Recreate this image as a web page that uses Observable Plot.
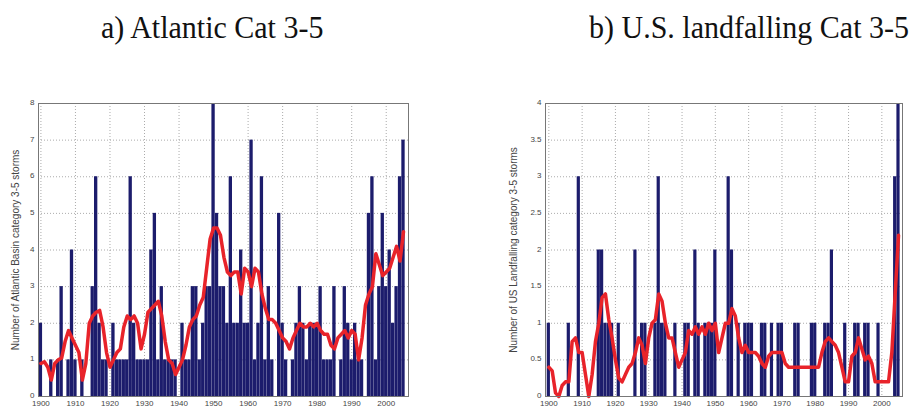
<!DOCTYPE html>
<html><head><meta charset="utf-8">
<script src="https://cdn.jsdelivr.net/npm/d3@7"></script>
<script src="https://cdn.jsdelivr.net/npm/@observablehq/plot@0.6"></script>
<style>
html,body{margin:0;padding:0;background:#fff;}
#root{position:relative;width:909px;height:413px;overflow:hidden;background:#fff;}
.title{position:absolute;top:10px;font-family:"Liberation Serif","Times New Roman",serif;font-size:30px;line-height:32px;color:#111;white-space:nowrap;transform:scaleY(1.07);transform-origin:left top;}
.panel{position:absolute;top:90px;}
</style></head><body>
<div id="root">
  <div class="title" style="left:101px">a) Atlantic Cat 3-5</div>
  <div class="title" style="left:589px">b) U.S. landfalling Cat 3-5</div>
  <div class="panel" id="pa" style="left:0px"></div>
  <div class="panel" id="pb" style="left:500px"></div>
</div>
<script>
// Years 1900-2005
const years = d3.range(1900, 2006);

// a) Atlantic basin category 3-5 storms per year
const atlanticCounts = [
  2,0,0,1,0,1,3,0,1,4,
  1,0,1,0,0,3,6,2,1,1,
  0,2,1,1,1,1,6,2,1,1,
  1,1,4,5,1,3,1,1,1,1,
  0,2,1,1,3,3,1,2,3,3,
  8,5,3,3,2,6,2,2,4,2,
  2,7,1,2,6,1,3,1,0,5,
  2,1,0,1,2,3,2,1,2,2,
  2,3,1,1,1,3,0,1,3,2,
  1,2,1,1,0,5,6,1,3,5,
  3,4,2,3,6,7
];
// a) smoothed curve (red)
const atlanticSmooth = [
  0.9,0.95,0.8,0.45,0.9,1.0,1.05,1.5,1.8,1.6,
  1.4,1.2,0.45,0.9,2.0,2.2,2.3,2.35,1.9,1.2,
  0.8,1.0,1.2,1.3,1.9,2.2,2.1,2.2,2.0,1.3,
  1.7,2.3,2.4,2.5,2.6,2.2,1.5,1.0,0.9,0.6,
  0.8,1.0,1.4,1.9,2.1,2.2,2.5,2.7,3.5,4.3,
  4.6,4.6,4.4,3.8,3.4,3.3,3.4,3.4,2.8,3.5,
  3.4,3.0,3.5,3.4,2.8,2.4,2.1,2.1,2.0,1.8,
  1.6,1.5,1.3,1.6,1.8,2.0,1.9,1.9,2.0,1.9,
  2.0,1.8,1.7,1.7,1.4,1.3,1.6,1.7,1.8,1.6,
  1.8,1.7,1.0,1.6,2.5,2.8,3.0,3.9,3.6,3.3,
  3.4,3.5,3.8,4.1,3.7,4.5
];

// b) U.S. landfalling category 3-5 storms per year
const usCounts = [
  1,0,0,0,0,0,1,0,0,3,
  0,0,0,0,0,2,2,1,1,1,
  0,1,0,0,0,0,2,0,1,1,
  0,0,1,3,1,1,0,0,1,0,
  0,1,1,0,2,1,0,1,1,1,
  2,0,0,0,3,2,0,1,0,1,
  1,1,0,0,1,1,0,1,0,1,
  1,0,0,0,1,1,0,0,0,1,
  1,0,0,1,1,2,0,0,0,1,
  0,0,1,1,0,1,1,0,0,1,
  0,0,0,0,3,4
];
// b) smoothed curve (red)
const usSmooth = [
  0.4,0.35,0.05,0.0,0.15,0.2,0.2,0.75,0.8,0.6,
  0.6,0.3,0.0,0.3,0.75,1.0,1.35,1.4,1.05,0.8,
  0.5,0.25,0.2,0.3,0.4,0.45,0.6,0.8,0.7,0.45,
  0.8,1.0,1.05,1.4,1.3,1.0,0.8,0.8,0.6,0.4,
  0.5,0.6,0.9,0.85,0.95,0.85,0.95,0.85,1.0,0.9,
  1.0,0.6,0.8,1.0,1.0,1.2,1.1,0.8,0.6,0.7,
  0.6,0.6,0.6,0.55,0.45,0.4,0.55,0.6,0.6,0.6,
  0.6,0.45,0.4,0.4,0.4,0.4,0.4,0.4,0.4,0.4,
  0.4,0.4,0.6,0.75,0.8,0.75,0.7,0.6,0.4,0.2,
  0.2,0.55,0.6,0.8,0.65,0.5,0.55,0.45,0.2,0.2,
  0.2,0.2,0.2,0.6,1.4,2.2
];

const xTicks = [1900,1910,1920,1930,1940,1950,1960,1970,1980,1990,2000];
const atlanticYTicks = [0,1,2,3,4,5,6,7,8];
const usYTicks = [0,0.5,1,1.5,2,2.5,3,3.5,4];

const NAVY = "#1c1c6c";
const RED = "#e8232a";

function panel({counts, smooth, yMax, yTicks, yLabel, xDomain, width, marginLeft, marginRight, labelDx}) {
  const data = years.map((y, i) => ({year: y, n: counts[i], s: smooth[i]}));
  const gridStyle = {stroke: "#8a8a8a", strokeOpacity: 0.9, strokeWidth: 0.8, strokeDasharray: "1,2"};
  return Plot.plot({
    width, height: 323,
    marginTop: 13, marginBottom: 17, marginLeft, marginRight,
    style: {fontFamily: "'Liberation Sans', Arial, sans-serif", fontSize: "8px", color: "#444", background: "white"},
    x: {domain: xDomain},
    y: {domain: [0, yMax]},
    marks: [
      Plot.gridX(xTicks, gridStyle),
      Plot.gridY(yTicks, gridStyle),
      Plot.rectY(data, {x1: d => d.year - 0.48, x2: d => d.year + 0.48, y: "n", fill: NAVY}),
      Plot.line(data, {x: "year", y: "s", stroke: RED, strokeWidth: 3.5, strokeLinejoin: "round"}),
      Plot.frame({stroke: "#777", strokeWidth: 1}),
      Plot.axisX(xTicks, {tickSize: 0, tickPadding: 4, tickFormat: d => String(d), label: null, fontSize: 8}),
      Plot.axisY(yTicks, {tickSize: 0, tickPadding: 4, tickFormat: d => String(d), label: null, fontSize: 8, dy: -1}),
      Plot.text([yLabel], {text: d => d, frameAnchor: "left", rotate: -90, dx: labelDx, fontSize: 10, fill: "#444", textAnchor: "middle", lineAnchor: "middle"})
    ]
  });
}

document.getElementById("pa").appendChild(panel({
  counts: atlanticCounts, smooth: atlanticSmooth, yMax: 8, yTicks: atlanticYTicks,
  yLabel: "Number of Atlantic Basin category 3-5 storms",
  xDomain: [1899.3, 2006.45], width: 410, marginLeft: 38, marginRight: 2, labelDx: -23
}));
document.getElementById("pb").appendChild(panel({
  counts: usCounts, smooth: usSmooth, yMax: 4, yTicks: usYTicks,
  yLabel: "Number of US Landfalling category 3-5 storms",
  xDomain: [1899.0, 2006.2], width: 409, marginLeft: 45, marginRight: 7, labelDx: -32
}));
</script>
</body></html>
